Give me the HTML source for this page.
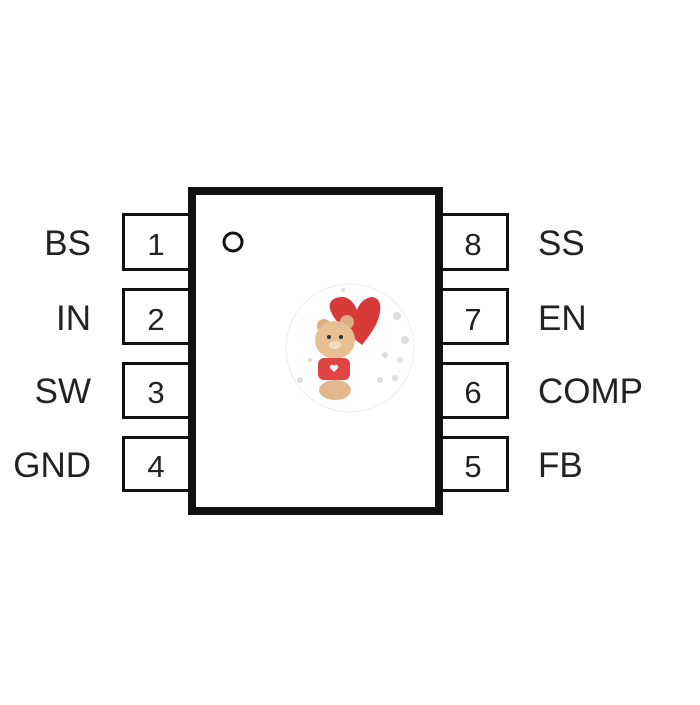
<!DOCTYPE html>
<html><head><style>
body{margin:0;width:700px;height:700px;background:#fff;overflow:hidden;font-family:"Liberation Sans",Arial,sans-serif}
</style></head><body>
<svg width="700" height="700" xmlns="http://www.w3.org/2000/svg">
<g fill="#fff" stroke="#111" stroke-width="3">
<rect x="123.5" y="214.5" width="66" height="55"/>
<rect x="123.5" y="289.5" width="66" height="54"/>
<rect x="123.5" y="363.5" width="66" height="54"/>
<rect x="123.5" y="437.5" width="66" height="53"/>
<rect x="440.5" y="214.5" width="67" height="55"/>
<rect x="440.5" y="289.5" width="67" height="54"/>
<rect x="440.5" y="363.5" width="67" height="54"/>
<rect x="440.5" y="437.5" width="67" height="53"/>
</g>
<rect x="192" y="191" width="247" height="320" fill="#fff" stroke="#111" stroke-width="8"/>
<circle cx="233" cy="242" r="9" fill="none" stroke="#111" stroke-width="3"/>
<g font-size="31" fill="#222" text-anchor="middle">
<text x="156" y="255">1</text><text x="156" y="330">2</text><text x="156" y="403">3</text><text x="156" y="477">4</text>
<text x="473" y="255">8</text><text x="473" y="330">7</text><text x="473" y="403">6</text><text x="473" y="477">5</text>
</g>
<g font-size="35" fill="#222" text-anchor="end">
<text x="91" y="255">BS</text><text x="91" y="330">IN</text><text x="91" y="403">SW</text><text x="91" y="477">GND</text>
</g>
<g font-size="35" fill="#222">
<text x="538" y="255">SS</text><text x="538" y="330">EN</text><text x="538" y="403">COMP</text><text x="538" y="477">FB</text>
</g>
<!-- bear sticker -->
<circle cx="350" cy="348" r="64" fill="#fff" stroke="#eee"/>
<g fill="#ddd">
<circle cx="397" cy="316" r="4"/><circle cx="405" cy="340" r="4"/><circle cx="385" cy="355" r="3"/><circle cx="400" cy="360" r="3"/><circle cx="380" cy="380" r="3"/><circle cx="395" cy="378" r="3"/><circle cx="300" cy="380" r="3"/><circle cx="310" cy="360" r="2"/><circle cx="343" cy="290" r="2"/>
</g>
<path d="M362 345 C330 320 320 300 340 297 C350 296 355 305 357 310 C362 296 378 292 380 305 C382 320 370 335 362 345Z" fill="#d83a3a"/>
<circle cx="324" cy="326" r="7" fill="#dcae82"/><circle cx="347" cy="322" r="7" fill="#dcae82"/>
<ellipse cx="335" cy="340" rx="20" ry="19" fill="#e7bf94"/>
<rect x="318" y="358" width="32" height="22" rx="6" fill="#e04444"/>
<path d="M330 368 l4 4 l4 -4 a2 2 0 0 0 -4 -2 a2 2 0 0 0 -4 2z" fill="#fff"/>
<ellipse cx="335" cy="390" rx="16" ry="10" fill="#e2b98e"/>
<circle cx="329" cy="337" r="2" fill="#333"/><circle cx="341" cy="337" r="2" fill="#333"/>
<ellipse cx="335" cy="345" rx="6" ry="4" fill="#f5dcc0"/>
</svg>
</body></html>
